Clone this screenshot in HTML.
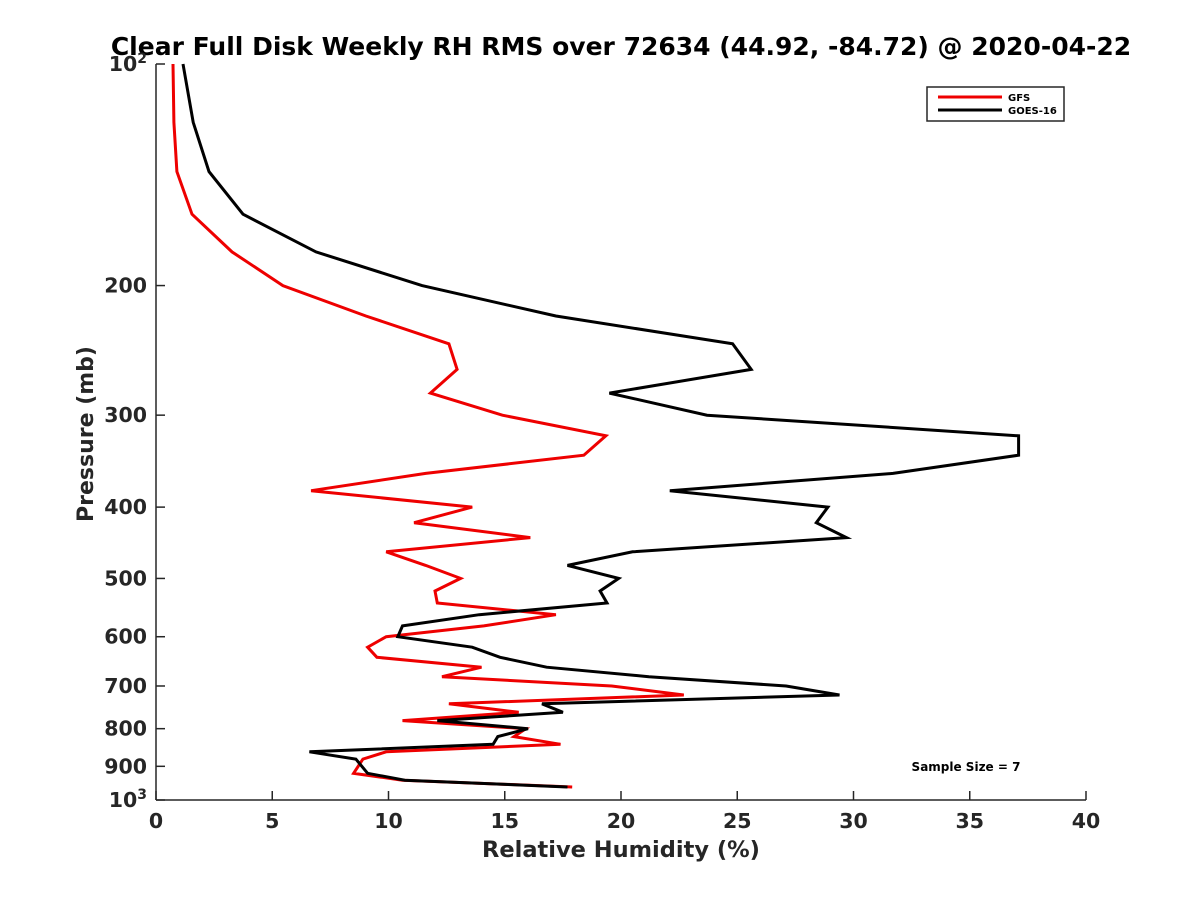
<!DOCTYPE html>
<html><head><meta charset="utf-8"><style>
body{margin:0;background:#fff}
svg text{font-family:"DejaVu Sans","Liberation Sans",sans-serif;font-weight:bold;fill:#262626}
</style></head><body>
<svg id="chart" width="1200" height="900" xmlns="http://www.w3.org/2000/svg">
<rect width="1200" height="900" fill="#fff"/>
<text x="621" y="55" text-anchor="middle" font-size="25" style="fill:#000">Clear Full Disk Weekly RH RMS over 72634 (44.92, -84.72) @ 2020-04-22</text>
<g id="axes"></g>
<g id="series"></g>
<text x="621" y="857" text-anchor="middle" font-size="22.5">Relative Humidity (%)</text>
<text transform="translate(93,434) rotate(-90)" text-anchor="middle" font-size="22">Pressure (mb)</text>
<g>
<rect x="927" y="87" width="137" height="34" fill="#fff" stroke="#262626" stroke-width="1.5"/>
<line x1="938" y1="97" x2="1002" y2="97" stroke="#e00" stroke-width="3"/>
<text x="1008" y="101" font-size="10" style="fill:#000">GFS</text>
<line x1="938" y1="110" x2="1002" y2="110" stroke="#000" stroke-width="3"/>
<text x="1008" y="114" font-size="10" style="fill:#000">GOES-16</text>
</g>
<text x="966" y="771" text-anchor="middle" font-size="12" style="fill:#000">Sample Size = 7</text>
</svg>
<script>
const pressures=[100,120,140,160,180,200,220,240,260,280,300,320,340,360,380,400,420,440,460,480,500,520,540,560,580,600,620,640,660,680,700,720,740,760,780,800,820,840,860,880,920,940,960];
const gfsValues=[0.73,0.77,0.9,1.55,3.27,5.46,9.03,12.6,12.95,11.8,14.9,19.35,18.4,11.6,6.67,13.6,11.1,16.1,9.9,11.6,13.1,12.0,12.1,17.2,14.1,9.9,9.1,9.5,14.0,12.3,19.6,22.7,12.6,15.6,10.6,15.9,15.4,17.4,9.9,8.9,8.5,10.6,17.9];
const goesValues=[1.16,1.6,2.28,3.74,6.88,11.44,17.2,24.8,25.6,19.5,23.7,37.1,37.1,31.7,22.1,28.9,28.4,29.7,20.5,17.7,19.9,19.1,19.4,13.9,10.6,10.4,13.6,14.8,16.8,21.2,27.1,29.4,16.6,17.5,12.1,16.0,14.7,14.5,6.6,8.6,9.1,10.7,17.7];
const xTicks=[0,5,10,15,20,25,30,35,40];
const yTicks=[100,200,300,400,500,600,700,800,900,1000];
const NS="http://www.w3.org/2000/svg";
const X0=156,X1=1086,Y0=64,Y1=800;
const xs=v=>X0+(v/40)*(X1-X0);
const ys=p=>Y0+Math.log10(p/100)*(Y1-Y0);
function mk(tag,attrs,parent){const e=document.createElementNS(NS,tag);for(const k in attrs)e.setAttribute(k,attrs[k]);parent.appendChild(e);return e;}
const axes=document.getElementById('axes');
const xa=mk('line',{x1:X0,y1:Y1,x2:X1,y2:Y1,stroke:'#262626','stroke-width':1.5},axes);


const ya=mk('line',{x1:X0,y1:Y0,x2:X0,y2:Y1,stroke:'#262626','stroke-width':1.5},axes);


xTicks.forEach(t=>{
 const l=mk('line',{x1:xs(t),y1:Y1,x2:xs(t),y2:Y1-9,stroke:'#262626','stroke-width':1.5},axes);
 
 
 const tx=mk('text',{x:xs(t),y:Y1+28,'text-anchor':'middle','font-size':20.5},axes);
 tx.textContent=t;
 
 
});
yTicks.forEach(t=>{
 const y=ys(t);
 const l=mk('line',{x1:X0,y1:y,x2:X0+9,y2:y,stroke:'#262626','stroke-width':1.5},axes);
 
 
 const tx=mk('text',{x:X0-9,y:y+7,'text-anchor':'end','font-size':20.5},axes);
 if(t===100){tx.innerHTML='10<tspan dy="-8" font-size="14">2</tspan>';}
 else if(t===1000){tx.innerHTML='10<tspan dy="-8" font-size="14">3</tspan>';}
 else tx.textContent=t;
 
 
});
const ser=document.getElementById('series');
function line(vals,color,name){
 const d=vals.map((v,i)=>(i?'L':'M')+xs(v).toFixed(1)+','+ys(pressures[i]).toFixed(1)).join('');
 const p=mk('path',{d:d,fill:'none',stroke:color,'stroke-width':3,'stroke-linejoin':'miter'},ser);
 
 
}
line(gfsValues,'#e00','gfs-line');
line(goesValues,'#000','goes16-line');
</script>
</body></html>
